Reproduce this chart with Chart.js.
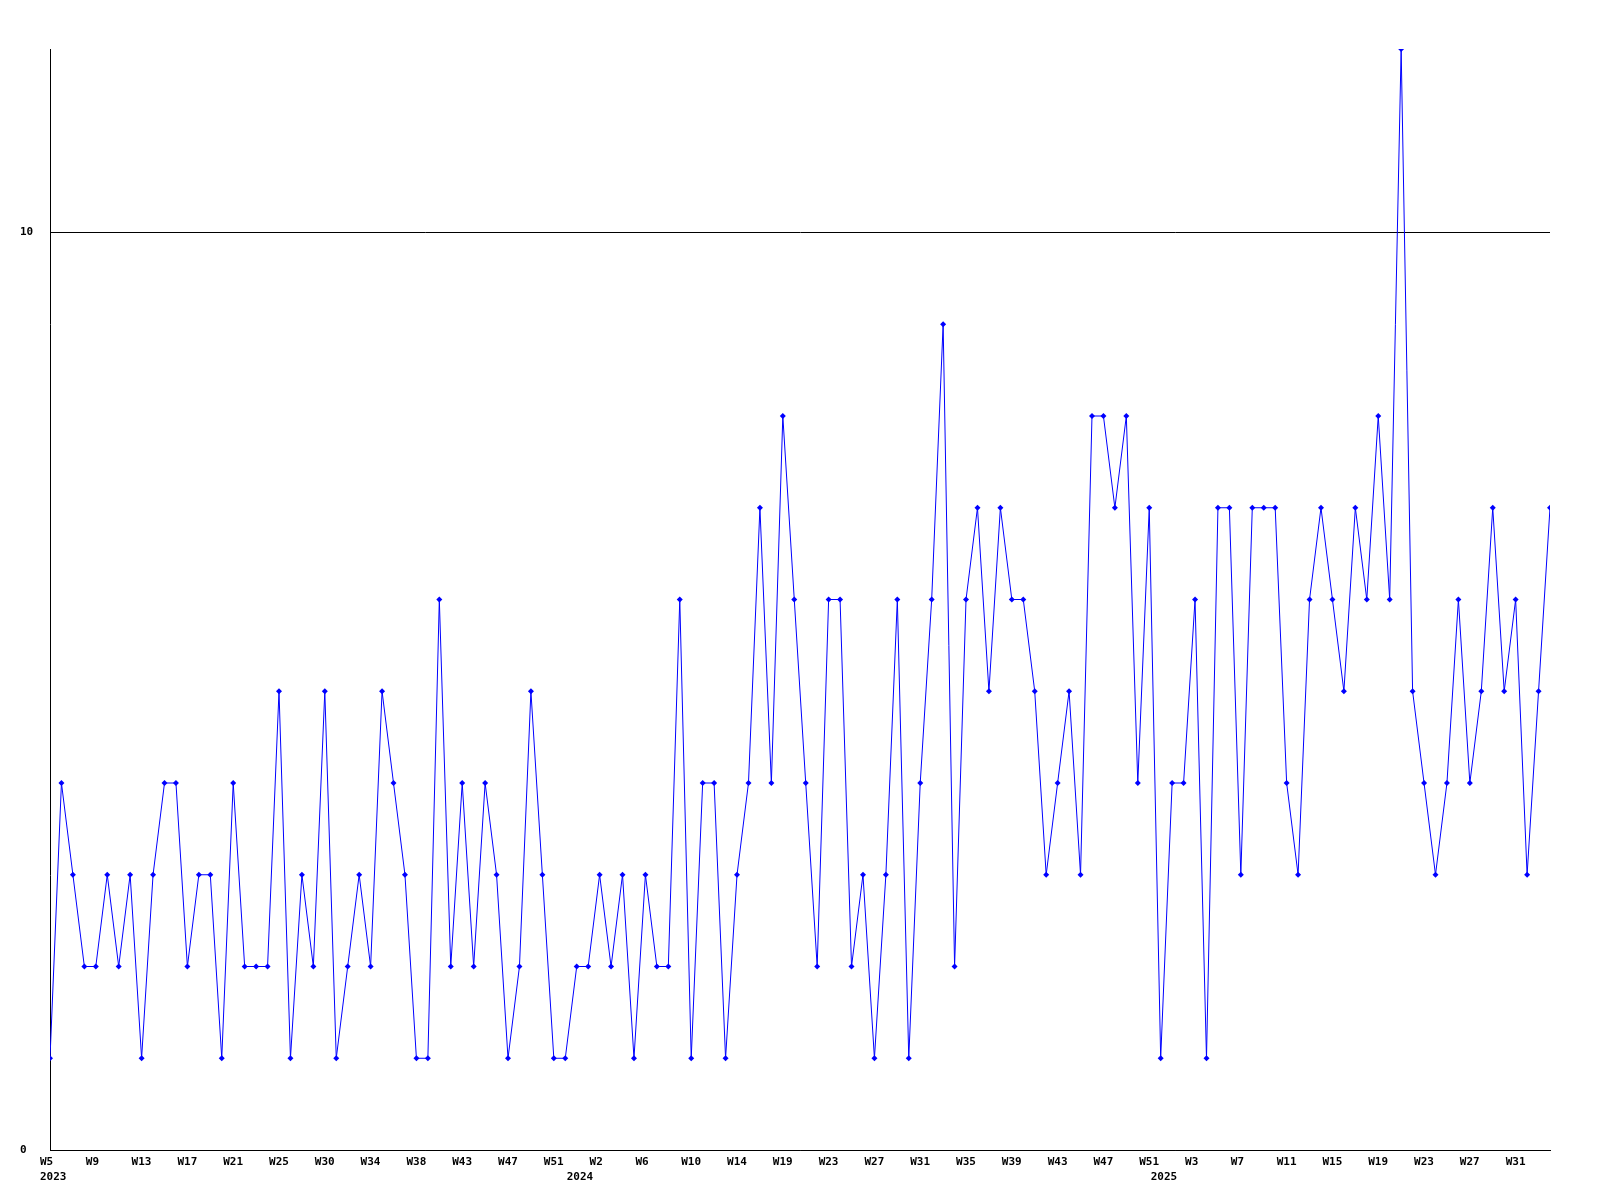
<!DOCTYPE html>
<html>
<head>
<meta charset="utf-8">
<title>Weekly count</title>
<script src="https://cdn.jsdelivr.net/npm/chart.js@4.4.1/dist/chart.umd.min.js"></script>
<style>
  html, body { margin: 0; padding: 0; background: #fff; }
  #wrap { width: 1600px; height: 1200px; }
</style>
</head>
<body>
<div id="wrap"><canvas id="chart" width="1600" height="1200"></canvas></div>
<script>
// one value per week, 2023 W5 -> 2025 W34 (some weeks are missing in the source)
const weeklyValues = [
  1, 4, 3, 2, 2, 3, 2, 3, 1, 3,
  4, 4, 2, 3, 3, 1, 4, 2, 2, 2,
  5, 1, 3, 2, 5, 1, 2, 3, 2, 5,
  4, 3, 1, 1, 6, 2, 4, 2,
  4, 3, 1, 2, 5, 3, 1, 1, 2, 2, 3, 2, 3, 1, 3, 2, 2, 6, 1, 4,
  4, 1, 3, 4, 7, 4, 8, 6, 4, 2, 6, 6, 2, 3, 1, 3, 6, 1, 4, 6, 9,
  2, 6, 7, 5, 7, 6, 6, 5, 3, 4, 5, 3, 8, 8, 7, 8, 4, 7, 1, 4,
  4, 6, 1, 7, 7, 3, 7, 7, 7, 4, 3, 6, 7, 6, 5, 7, 6, 8, 6,
  12,
  5, 4, 3, 4, 6, 4, 5, 7, 5, 6, 3, 5, 7
];

// week labels, one every 4th point
const weekTicks = [
  'W5', 'W9', 'W13', 'W17', 'W21', 'W25', 'W30', 'W34', 'W38', 'W43', 'W47', 'W51',
  'W2', 'W6', 'W10', 'W14', 'W19', 'W23', 'W27', 'W31', 'W35', 'W39', 'W43', 'W47', 'W51',
  'W3', 'W7', 'W11', 'W15', 'W19', 'W23', 'W27', 'W31'
];
const weekTickStep = 4;

// year labels and the point index where each year starts
const yearLabels = ['2023', '2024', '2025'];
const yearStarts = [0, 46, 97];

const yTicks = [0, 10];

// rótulos do eixo x: semana na 1a linha, ano na 2a
const xLabelMap = new Map();
weekTicks.forEach((w, i) => xLabelMap.set(i * weekTickStep, [w, '']));
yearLabels.forEach((y, i) => {
  const pos = yearStarts[i];
  const cur = xLabelMap.get(pos) || ['', ''];
  cur[1] = y;
  xLabelMap.set(pos, cur);
});

const fontFamily = '"DejaVu Sans Mono", "Liberation Mono", monospace';
Chart.defaults.font.family = fontFamily;
Chart.defaults.font.size = 11;
Chart.defaults.font.weight = 'bold';
Chart.defaults.color = '#000';

new Chart(document.getElementById('chart').getContext('2d'), {
  type: 'line',
  data: {
    datasets: [{
      data: weeklyValues.map((v, i) => ({ x: i, y: v })),
      borderColor: '#0000ff',
      backgroundColor: '#0000ff',
      borderWidth: 1,
      tension: 0,
      fill: false,
      pointStyle: 'rectRot',
      pointRadius: 3,
      pointBorderWidth: 0,
      pointBackgroundColor: '#0000ff'
    }]
  },
  options: {
    responsive: false,
    animation: false,
    layout: { padding: { left: 20, top: 49, right: 50, bottom: 0 } },
    plugins: { legend: { display: false }, tooltip: { enabled: false } },
    scales: {
      x: {
        type: 'linear',
        min: 0,
        max: weeklyValues.length - 1,
        offset: false,
        grid: { display: false, drawTicks: false },
        border: { display: true, color: '#000', width: 1 },
        afterBuildTicks: (scale) => {
          scale.ticks = [...xLabelMap.keys()].sort((a, b) => a - b).map(v => ({ value: v }));
        },
        afterFit: (scale) => { scale.height = 50; },
        ticks: {
          autoSkip: false,
          maxRotation: 0,
          minRotation: 0,
          align: 'start',
          labelOffset: -10,
          padding: 5,
          font: { family: fontFamily, size: 11, weight: 'bold', lineHeight: 1.35 },
          callback: (v) => xLabelMap.get(v) || ''
        }
      },
      y: {
        min: 0,
        max: 12,
        grid: { display: true, color: '#000', lineWidth: 1, drawTicks: false },
        border: { display: true, color: '#000', width: 1 },
        afterBuildTicks: (scale) => { scale.ticks = yTicks.map(v => ({ value: v })); },
        afterFit: (scale) => { scale.width = 30; },
        ticks: {
          crossAlign: 'far',
          padding: 17,
          font: { family: fontFamily, size: 11, weight: 'bold' },
          callback: (v) => String(v)
        }
      }
    }
  }
});
</script>
</body>
</html>
